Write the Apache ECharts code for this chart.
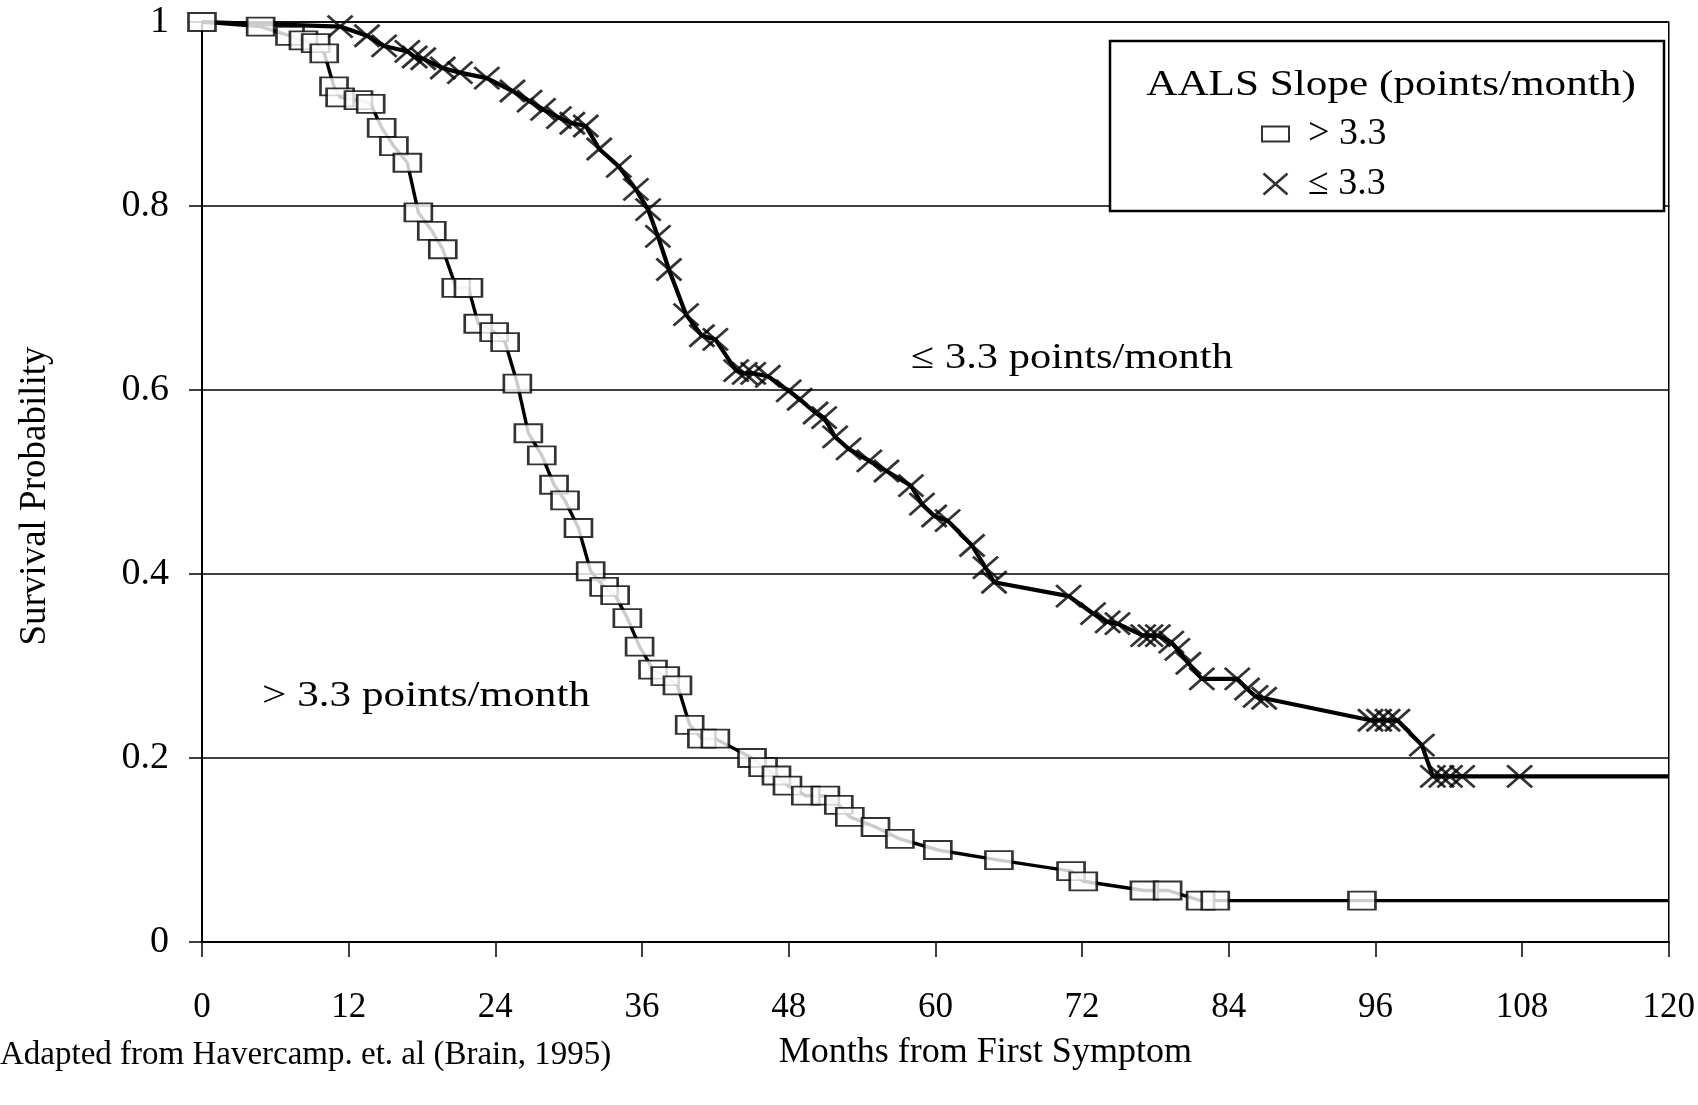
<!DOCTYPE html>
<html>
<head>
<meta charset="utf-8">
<script src="https://cdn.jsdelivr.net/npm/echarts@6/dist/echarts.min.js"></script>
<style>
html,body{margin:0;padding:0;background:#fff;}
#chart{width:1698px;height:1105px;}
</style>
</head>
<body>
<div id="chart"></div>
<script>
// ---- Data ----
const monthTicks = [0, 12, 24, 36, 48, 60, 72, 84, 96, 108, 120];
const survivalTicks = [0, 0.2, 0.4, 0.6, 0.8, 1];

// AALS slope > 3.3 points/month (square markers)
const fastMonths = [0, 4.8, 7.2, 8.3, 9.3, 10.0, 10.8, 11.3, 12.8, 13.8, 14.7, 15.7, 16.8, 17.7, 18.8, 19.7, 20.8, 21.8, 22.6, 23.9, 24.8, 25.8, 26.7, 27.8, 28.8, 29.7, 30.8, 31.8, 32.9, 33.8, 34.8, 35.8, 36.9, 37.9, 38.9, 39.9, 40.9, 42.0, 45.0, 45.9, 47.0, 47.9, 49.4, 51.0, 52.1, 53.0, 55.1, 57.1, 60.2, 65.2, 71.1, 72.1, 77.1, 79.0, 81.7, 82.9, 94.9, 120];
const fastSurvival = [1.0, 0.995, 0.985, 0.980, 0.977, 0.966, 0.930, 0.918, 0.915, 0.911, 0.885, 0.865, 0.847, 0.793, 0.773, 0.753, 0.711, 0.711, 0.672, 0.663, 0.652, 0.607, 0.553, 0.529, 0.497, 0.480, 0.450, 0.403, 0.386, 0.377, 0.352, 0.321, 0.296, 0.289, 0.279, 0.236, 0.221, 0.221, 0.200, 0.190, 0.181, 0.170, 0.159, 0.159, 0.149, 0.136, 0.125, 0.112, 0.100, 0.089, 0.077, 0.066, 0.056, 0.056, 0.045, 0.045, 0.045, 0.045];

// AALS slope <= 3.3 points/month (x markers)
const slowMonths = [0, 11.3, 13.5, 14.9, 16.8, 17.4, 18.1, 19.7, 21.1, 23.3, 25.4, 26.8, 27.9, 29.2, 30.3, 31.4, 32.5, 34.1, 35.5, 36.5, 37.3, 38.2, 39.6, 40.9, 42.0, 43.7, 44.4, 45.1, 46.3, 48.0, 48.9, 50.2, 50.9, 51.8, 52.9, 54.6, 56.0, 58.0, 58.9, 59.9, 61.0, 63.0, 64.1, 64.8, 70.9, 72.9, 74.1, 74.9, 77.0, 77.6, 78.2, 79.3, 79.8, 80.7, 81.8, 84.7, 85.5, 86.2, 86.9, 95.6, 96.3, 97.0, 97.8, 99.8, 100.7, 101.4, 102.1, 103.1, 107.8, 120];
const slowSurvival = [1.0, 0.995, 0.985, 0.974, 0.968, 0.962, 0.960, 0.950, 0.945, 0.939, 0.925, 0.914, 0.905, 0.896, 0.890, 0.887, 0.862, 0.843, 0.818, 0.796, 0.767, 0.731, 0.682, 0.659, 0.655, 0.621, 0.618, 0.618, 0.615, 0.599, 0.590, 0.575, 0.570, 0.549, 0.536, 0.523, 0.512, 0.496, 0.476, 0.463, 0.458, 0.431, 0.407, 0.391, 0.376, 0.357, 0.348, 0.346, 0.333, 0.333, 0.333, 0.326, 0.318, 0.303, 0.286, 0.286, 0.275, 0.267, 0.265, 0.241, 0.241, 0.241, 0.241, 0.214, 0.180, 0.180, 0.180, 0.180, 0.180, 0.180];

const fastName = '> 3.3';
const slowName = '\u2264 3.3';
const legendTitle = 'AALS Slope (points/month)';
const slowLabel = '\u2264 3.3 points/month';
const fastLabel = '> 3.3 points/month';
const xTitle = 'Months from First Symptom';
const yTitle = 'Survival Probability';
const source = 'Adapted from Havercamp. et. al (Brain, 1995)';

// ---- Build ----
const SERIF = '"Liberation Serif", "Times New Roman", Times, serif';
const xPath = 'path://M0 0L24 21M24 0L0 21';
const rectPath = 'path://M0 0H25V14H0Z';
const pairs = (xs, ys) => xs.map((x, i) => [x, ys[i]]);
const fastLine = pairs(fastMonths, fastSurvival);
const slowLine = pairs(slowMonths, slowSurvival);
const fastMarks = fastLine.slice(0, fastLine.length - 1);
const slowMarks = slowLine.slice(1, slowLine.length - 1);

const chart = echarts.init(document.getElementById('chart'), null, {renderer: 'canvas'});
chart.setOption({
  backgroundColor: '#fff',
  animation: false,
  textStyle: {fontFamily: SERIF, color: '#000'},
  grid: {left: 202, right: 17, top: 22, bottom: 163, show: true, borderColor: '#000', borderWidth: 1.5},
  xAxis: {
    type: 'value', min: monthTicks[0], max: monthTicks[monthTicks.length - 1], interval: 12,
    axisLine: {lineStyle: {color: '#000', width: 2}},
    axisTick: {length: 15, lineStyle: {color: '#000', width: 1.5}},
    axisLabel: {fontSize: 35, fontFamily: SERIF, color: '#000', margin: 48},
    splitLine: {show: false},
    name: xTitle, nameLocation: 'middle', nameGap: 93,
    nameTextStyle: {fontSize: 36, fontFamily: SERIF, color: '#000', padding: [0, 0, 0, 100]}
  },
  yAxis: {
    type: 'value', min: survivalTicks[0], max: survivalTicks[survivalTicks.length - 1], interval: 0.2,
    axisLine: {show: true, lineStyle: {color: '#000', width: 2}},
    axisTick: {show: true, length: 13, lineStyle: {color: '#000', width: 1.5}},
    axisLabel: {fontSize: 38, fontFamily: SERIF, color: '#000', margin: 33},
    splitLine: {show: true, lineStyle: {color: '#000', width: 1.5}},
    name: yTitle, nameLocation: 'middle', nameRotate: 90, nameGap: 148,
    nameTextStyle: {fontSize: 37, fontFamily: SERIF, color: '#000', padding: [0, 28, 0, 0]}
  },
  legend: {
    orient: 'vertical', left: 1256, top: 106, z: 6,
    selectedMode: false, itemWidth: 27, itemHeight: 21, itemGap: 4,
    textStyle: {fontSize: 38, fontFamily: SERIF, color: '#000', lineHeight: 46, padding: [0, 0, 0, 14]},
    data: [
      {name: fastName, icon: rectPath, itemStyle: {color: '#fff', borderColor: '#000', borderWidth: 2}},
      {name: slowName, icon: xPath, itemStyle: {color: 'rgba(0,0,0,0)', borderColor: '#000', borderWidth: 2.6}}
    ]
  },
  graphic: [
    {type: 'rect', z: 1, shape: {x: 1110, y: 41, width: 554, height: 170},
      style: {fill: '#fff', stroke: '#000', lineWidth: 2.5}},
    {type: 'text', z: 6, x: 1391, y: 86, scaleX: 1.2,
      style: {text: legendTitle, font: '36px ' + SERIF, fill: '#000', align: 'center', verticalAlign: 'middle'}},
    {type: 'text', z: 6, x: 911, y: 359, scaleX: 1.18,
      style: {text: slowLabel, font: '36px ' + SERIF, fill: '#000', align: 'left', verticalAlign: 'middle'}},
    {type: 'text', z: 6, x: 262, y: 697, scaleX: 1.2,
      style: {text: fastLabel, font: '36px ' + SERIF, fill: '#000', align: 'left', verticalAlign: 'middle'}},
    {type: 'text', z: 6, x: 0, y: 1055,
      style: {text: source, font: '33px ' + SERIF, fill: '#000', align: 'left', verticalAlign: 'middle'}}
  ],
  series: [
    {type: 'line', name: slowName + ' line', data: slowLine, symbol: 'none', z: 2,
      lineStyle: {color: '#000', width: 4.2}},
    {type: 'line', name: fastName + ' line', data: fastLine, symbol: 'none', z: 2,
      lineStyle: {color: '#000', width: 3.4}},
    {type: 'scatter', name: slowName, data: slowMarks, symbol: xPath, symbolSize: [25, 22], z: 3,
      itemStyle: {color: 'rgba(0,0,0,0)', borderColor: '#000', borderWidth: 2.8}},
    {type: 'scatter', name: fastName, data: fastMarks, symbol: 'rect', symbolSize: [27, 18], z: 4,
      itemStyle: {color: '#fff', borderColor: '#000', borderWidth: 2.2}}
  ]
});
</script>
</body>
</html>
